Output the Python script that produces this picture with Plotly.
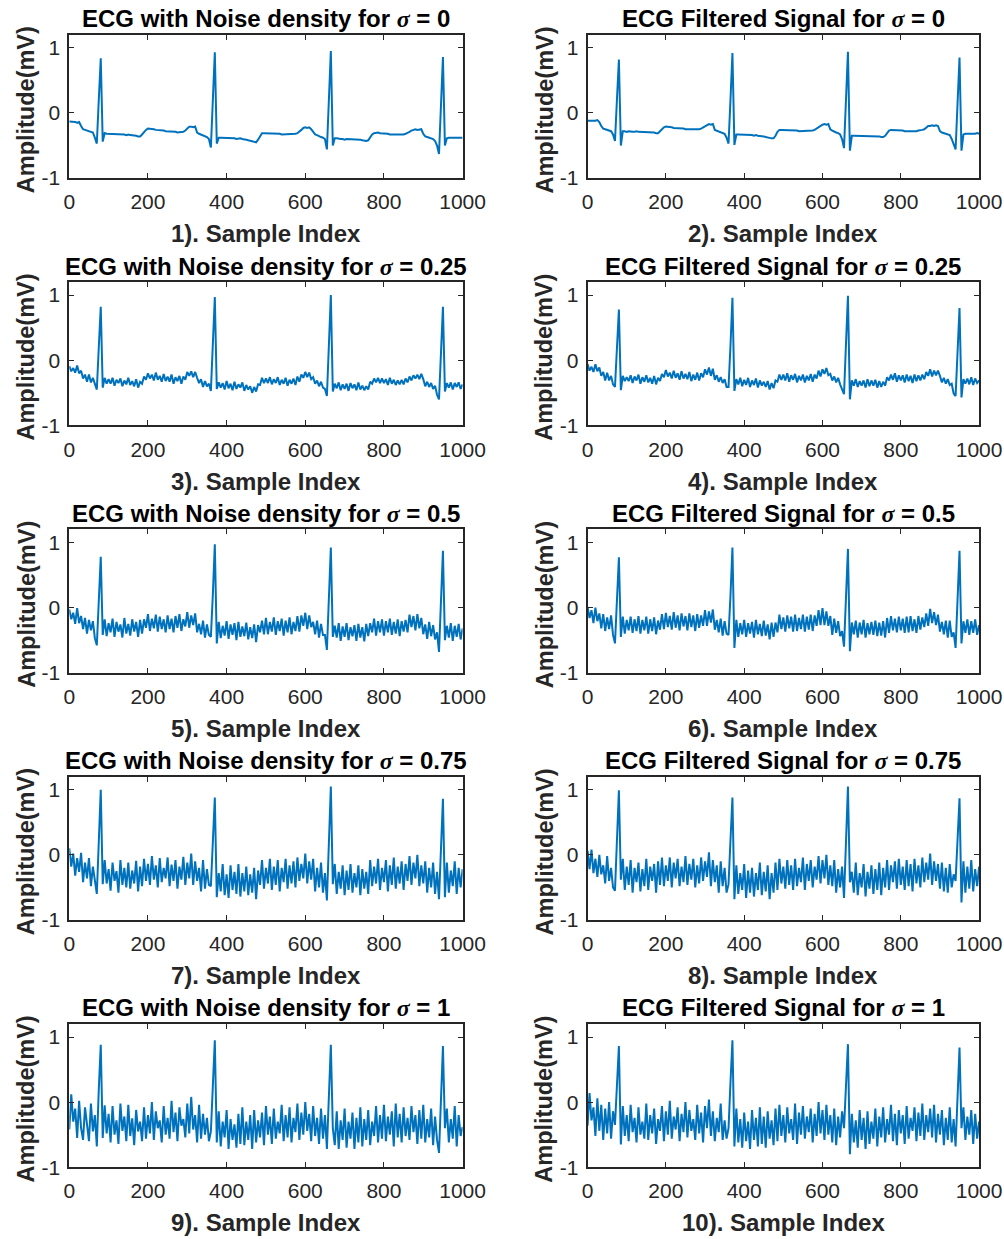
import plotly.graph_objects as go

# ---------------- data (amplitude in hundredths of mV, one value every 5 samples) ----------------
sample_step = 5
x_ticks = [0, 200, 400, 600, 800, 1000]
y_ticks = [-1, 0, 1]
y_tick_text = ["-1", "0", "1"]
sigma_labels = ["0", "0.25", "0.5", "0.75", "1"]

ecg_noisy_0 = [
    -13, -13, -14, -14, -15, -14, -20, -25, -26, -27,
    -28, -28, -30, -38, -47, 20, 84, -44, -31, -32,
    -32, -33, -32, -33, -33, -32, -33, -33, -33, -34,
    -33, -34, -34, -34, -35, -36, -36, -33, -29, -26,
    -24, -24, -25, -25, -26, -26, -27, -27, -27, -28,
    -28, -29, -29, -29, -29, -30, -30, -30, -29, -27,
    -24, -21, -21, -22, -21, -30, -32, -33, -35, -36,
    -37, -40, -53, 20, 93, -47, -38, -38, -38, -39,
    -38, -39, -39, -39, -39, -40, -39, -39, -40, -40,
    -41, -42, -43, -44, -45, -45, -41, -35, -31, -31,
    -31, -31, -32, -31, -31, -32, -32, -32, -33, -33,
    -33, -33, -33, -33, -33, -32, -31, -29, -26, -23,
    -22, -23, -22, -25, -30, -33, -34, -36, -37, -38,
    -40, -56, 20, 95, -50, -39, -39, -40, -40, -40,
    -41, -40, -40, -41, -40, -40, -40, -41, -41, -42,
    -43, -43, -42, -37, -33, -31, -30, -30, -31, -31,
    -32, -32, -32, -33, -33, -33, -34, -34, -34, -34,
    -33, -32, -31, -29, -27, -26, -25, -26, -25, -25,
    -32, -36, -37, -38, -39, -40, -43, -50, -63, 12,
    86, -50, -39, -38, -38, -39, -38, -38, -38, -38, -38,
]

ecg_filt_0 = [
    -12, -12, -13, -12, -12, -11, -14, -20, -24, -25,
    -26, -27, -28, -33, -43, 20, 82, -50, -28, -28,
    -29, -28, -29, -29, -29, -28, -29, -29, -29, -29,
    -29, -30, -29, -30, -30, -31, -31, -28, -25, -22,
    -21, -21, -22, -22, -23, -23, -23, -24, -24, -24,
    -25, -25, -25, -26, -26, -26, -26, -25, -24, -22,
    -20, -18, -17, -18, -17, -26, -27, -29, -30, -31,
    -32, -38, -47, 20, 92, -49, -33, -33, -33, -34,
    -33, -34, -34, -34, -34, -35, -34, -35, -35, -35,
    -36, -37, -38, -39, -39, -39, -35, -29, -26, -26,
    -26, -27, -26, -27, -27, -27, -27, -27, -28, -28,
    -28, -28, -28, -28, -27, -27, -26, -24, -22, -19,
    -18, -17, -18, -17, -25, -27, -29, -30, -31, -33,
    -40, -54, 20, 94, -58, -35, -35, -35, -35, -36,
    -35, -35, -36, -35, -36, -35, -35, -36, -36, -36,
    -37, -37, -35, -30, -27, -26, -26, -26, -27, -27,
    -27, -27, -28, -28, -28, -28, -29, -28, -28, -27,
    -27, -26, -25, -22, -20, -20, -19, -20, -19, -20,
    -28, -30, -31, -32, -33, -34, -40, -50, -56, 15,
    85, -58, -33, -32, -32, -33, -32, -32, -32, -31, -32,
]

ecg_noisy_025 = [
    -9, -17, -12, -19, -8, -20, -16, -28, -22, -33,
    -22, -34, -27, -35, -45, 20, 82, -42, -27, -36,
    -29, -36, -27, -39, -30, -35, -28, -40, -31, -37,
    -27, -38, -32, -40, -29, -42, -33, -36, -25, -30,
    -20, -28, -22, -31, -19, -30, -24, -33, -21, -32,
    -25, -33, -22, -36, -26, -32, -24, -36, -25, -30,
    -18, -24, -17, -26, -18, -27, -35, -29, -41, -32,
    -40, -36, -47, 25, 97, -44, -34, -42, -35, -45,
    -32, -43, -36, -46, -33, -44, -37, -42, -34, -47,
    -38, -45, -40, -50, -41, -48, -37, -38, -27, -35,
    -28, -35, -26, -37, -29, -35, -26, -38, -30, -36,
    -27, -39, -30, -36, -28, -38, -25, -33, -22, -27,
    -18, -26, -19, -29, -26, -36, -31, -40, -33, -42,
    -44, -55, 30, 100, -48, -36, -43, -34, -46, -37,
    -44, -36, -47, -35, -43, -37, -46, -34, -45, -39,
    -46, -40, -45, -33, -36, -28, -34, -27, -35, -28,
    -35, -29, -38, -27, -36, -30, -38, -31, -37, -30,
    -37, -28, -34, -25, -31, -23, -28, -22, -29, -21,
    -29, -40, -33, -41, -35, -44, -39, -53, -60, 10,
    82, -48, -35, -42, -34, -45, -35, -41, -34, -44, -37,
]

ecg_filt_025 = [
    -6, -16, -10, -18, -6, -17, -11, -24, -18, -31,
    -19, -31, -24, -37, -41, 18, 78, -46, -24, -32,
    -26, -32, -23, -35, -25, -31, -22, -36, -26, -33,
    -23, -34, -27, -36, -24, -37, -27, -32, -21, -26,
    -15, -25, -19, -28, -16, -27, -20, -30, -17, -28,
    -21, -29, -18, -32, -22, -30, -19, -31, -20, -26,
    -14, -22, -11, -24, -13, -30, -23, -33, -26, -35,
    -29, -41, -41, 22, 96, -47, -29, -37, -27, -40,
    -30, -38, -27, -41, -31, -38, -28, -42, -31, -39,
    -33, -41, -32, -45, -35, -43, -31, -33, -22, -30,
    -22, -31, -20, -33, -23, -30, -21, -34, -24, -31,
    -22, -34, -24, -31, -21, -33, -22, -28, -16, -25,
    -14, -21, -12, -23, -21, -31, -25, -34, -27, -37,
    -44, -52, 25, 99, -60, -31, -39, -29, -41, -32,
    -39, -31, -42, -29, -40, -31, -39, -30, -42, -32,
    -41, -33, -39, -26, -31, -22, -30, -20, -33, -23,
    -31, -23, -34, -22, -32, -24, -35, -22, -32, -23,
    -31, -22, -29, -18, -24, -14, -25, -16, -23, -16,
    -24, -34, -27, -36, -29, -38, -36, -51, -55, 14,
    80, -57, -29, -36, -28, -37, -26, -38, -28, -35, -31,
]

ecg_noisy_05 = [
    -3, -18, -8, -25, -1, -24, -13, -33, -16, -40,
    -19, -35, -21, -47, -58, 10, 78, -42, -18, -44,
    -24, -38, -17, -45, -22, -37, -26, -46, -16, -40,
    -25, -43, -18, -37, -22, -45, -19, -40, -18, -31,
    -10, -36, -17, -32, -11, -37, -14, -33, -18, -38,
    -12, -33, -17, -38, -13, -31, -10, -36, -18, -29,
    -7, -31, -12, -27, -9, -38, -25, -41, -20, -46,
    -26, -42, -45, 20, 97, -55, -22, -47, -28, -43,
    -21, -48, -26, -42, -24, -50, -22, -45, -29, -44,
    -23, -49, -30, -47, -26, -53, -27, -38, -20, -41,
    -16, -41, -22, -37, -15, -42, -21, -36, -17, -43,
    -20, -38, -15, -41, -22, -36, -13, -37, -12, -28,
    -8, -33, -12, -30, -22, -41, -20, -46, -25, -42,
    -42, -65, 15, 92, -45, -28, -46, -24, -51, -29,
    -45, -24, -50, -30, -44, -27, -51, -25, -46, -30,
    -52, -25, -44, -24, -38, -17, -43, -21, -38, -18,
    -43, -21, -38, -17, -42, -22, -40, -18, -44, -21,
    -37, -19, -38, -11, -30, -13, -35, -10, -32, -16,
    -41, -26, -48, -22, -44, -27, -49, -38, -68, 10,
    87, -50, -28, -46, -24, -51, -28, -45, -25, -49, -32,
]

ecg_filt_05 = [
    1, -16, -4, -24, 0, -21, -9, -32, -10, -36,
    -15, -33, -12, -42, -55, 12, 77, -45, -14, -40,
    -19, -35, -14, -39, -18, -36, -13, -40, -19, -35,
    -14, -40, -18, -36, -15, -41, -20, -34, -10, -33,
    -8, -30, -13, -34, -7, -31, -12, -35, -9, -29,
    -13, -35, -9, -30, -12, -36, -10, -31, -12, -28,
    -4, -28, -6, -23, -3, -34, -19, -38, -17, -43,
    -21, -40, -42, 18, 92, -62, -19, -45, -24, -41,
    -19, -45, -24, -40, -22, -46, -19, -41, -25, -44,
    -20, -43, -26, -49, -23, -45, -23, -38, -11, -33,
    -15, -37, -12, -32, -14, -37, -11, -36, -16, -33,
    -11, -37, -14, -34, -11, -36, -12, -28, -4, -27,
    -1, -27, -6, -28, -13, -42, -17, -39, -21, -44,
    -36, -60, 15, 90, -67, -23, -41, -20, -46, -23,
    -41, -19, -46, -24, -41, -22, -42, -20, -44, -23,
    -43, -21, -46, -16, -39, -13, -35, -17, -38, -14,
    -35, -17, -39, -14, -38, -13, -36, -18, -39, -13,
    -34, -15, -30, -9, -28, -2, -24, -7, -27, -11,
    -37, -22, -41, -20, -46, -20, -45, -38, -62, 10,
    87, -55, -21, -39, -18, -42, -21, -39, -18, -42, -27,
]

ecg_noisy_075 = [
    10, -18, 2, -32, -5, -26, 3, -42, -12, -36,
    -5, -48, -18, -40, -60, 20, 100, -45, -8, -44,
    -22, -55, -12, -40, -25, -58, -8, -46, -20, -50,
    -12, -52, -24, -44, -9, -56, -18, -48, -6, -40,
    -14, -46, -2, -38, -16, -50, -5, -42, -20, -36,
    -4, -48, -15, -40, -8, -52, -18, -38, -3, -46,
    -12, -36, 2, -46, -10, -40, -20, -56, -8, -52,
    -22, -46, -48, 20, 88, -65, -28, -56, -14, -62,
    -30, -66, -16, -54, -26, -60, -14, -64, -28, -56,
    -18, -62, -30, -58, -20, -68, -24, -46, -8, -52,
    -20, -44, -6, -54, -18, -46, -8, -56, -20, -42,
    -6, -52, -16, -44, -10, -50, -4, -40, -14, -36,
    2, -44, -10, -38, -6, -56, -20, -50, -12, -58,
    -28, -70, 20, 105, -45, -14, -60, -26, -52, -16,
    -62, -24, -54, -14, -58, -28, -50, -16, -62, -22,
    -52, -26, -60, -8, -48, -18, -44, -6, -54, -20,
    -42, -8, -56, -16, -46, -4, -52, -18, -44, -10,
    -54, -14, -40, -2, -46, -12, -36, 0, -48, -16,
    -44, -10, -58, -20, -50, -12, -60, -26, -68, 10,
    86, -65, -12, -58, -24, -48, -10, -60, -20, -50, -22,
]

ecg_filt_075 = [
    6, -22, 8, -28, -6, -34, 0, -30, -16, -44,
    -2, -40, -20, -50, -55, 22, 99, -38, -6, -54,
    -18, -46, -8, -58, -20, -42, -12, -56, -22, -48,
    -6, -54, -18, -40, -14, -58, -10, -46, -4, -48,
    -16, -40, -4, -50, -12, -36, -6, -48, -18, -42,
    -2, -46, -14, -38, -6, -50, -16, -44, -4, -40,
    -10, -34, 4, -48, -8, -42, -16, -58, -10, -48,
    -20, -58, -45, 22, 88, -68, -16, -60, -28, -54,
    -14, -66, -24, -58, -20, -64, -28, -54, -12, -62,
    -26, -56, -16, -68, -28, -58, -12, -54, -6, -44,
    -18, -52, -8, -46, -16, -54, -6, -48, -20, -42,
    -4, -54, -14, -40, -8, -50, -18, -38, -2, -44,
    -8, -36, 0, -46, -16, -48, -8, -58, -22, -50,
    -18, -66, 20, 105, -42, -26, -58, -12, -62, -28,
    -50, -14, -64, -26, -52, -16, -60, -22, -54, -12,
    -62, -20, -50, -8, -54, -16, -42, -10, -52, -6,
    -46, -18, -54, -8, -48, -14, -56, -6, -44, -16,
    -50, -4, -42, -12, -38, 2, -46, -10, -40, -14,
    -52, -12, -56, -20, -58, -14, -50, -30, -40, 15,
    87, -73, -10, -58, -18, -52, -8, -56, -22, -48, -18,
]

ecg_noisy_1 = [
    -42, 12, -30, -10, -55, 2, -40, -58, -8, -35,
    -60, -2, -45, -20, -68, 20, 88, -55, -5, -48,
    -18, -62, -6, -50, -28, -64, -2, -44, -22, -60,
    -4, -52, -25, -66, -12, -45, -30, -60, -8, -56,
    -20, -48, 0, -58, -14, -40, -28, -62, -6, -50,
    -24, -56, 2, -46, -16, -60, -8, -36, -26, -54,
    -2, -48, 8, -42, -20, -62, -4, -56, -18, -50,
    -24, -60, -45, 25, 95, -62, -14, -68, -30, -54,
    -12, -72, -26, -58, -34, -70, -18, -64, -8, -66,
    -30, -58, -20, -72, -12, -62, -28, -54, -16, -66,
    -6, -50, -22, -64, -10, -56, -30, -48, -4, -60,
    -20, -54, -8, -62, -24, -46, -2, -58, -16, -50,
    0, -44, -18, -60, -6, -52, -24, -64, -10, -56,
    -20, -72, 15, 88, -40, -66, -14, -72, -28, -58,
    -10, -70, -30, -56, -16, -72, -24, -62, -8, -68,
    -26, -58, -12, -66, -30, -52, -6, -62, -20, -56,
    -4, -60, -22, -50, -14, -68, -2, -54, -18, -62,
    -8, -52, -24, -58, -6, -46, -20, -64, -12, -56,
    -4, -62, -26, -54, -10, -66, -22, -58, -78, 20,
    86, -40, -10, -62, -26, -56, -6, -68, -20, -52, -38,
]

ecg_filt_1 = [
    -36, 14, -28, -8, -52, 6, -44, -4, -58, -10,
    -48, 0, -56, -14, -35, 18, 86, -65, -6, -52,
    -20, -60, -4, -46, -24, -62, -8, -50, -30, -56,
    -2, -58, -20, -48, -10, -64, -26, -44, -6, -60,
    -14, -50, 2, -56, -22, -42, -8, -60, -18, -46,
    0, -54, -12, -44, -26, -58, -4, -48, -16, -62,
    -6, -40, 4, -52, -14, -60, -24, -46, -2, -58,
    -28, -56, -40, 30, 95, -68, -10, -62, -26, -70,
    -16, -60, -30, -72, -12, -58, -24, -68, -8, -64,
    -22, -70, -14, -56, -28, -66, -10, -60, -4, -52,
    -20, -62, -8, -48, -26, -58, -2, -64, -16, -50,
    -6, -56, -22, -46, -10, -62, -18, -52, 0, -48,
    -12, -58, -4, -50, -20, -62, -10, -66, -22, -54,
    -14, -40, 20, 89, -80, -18, -62, -28, -70, -12,
    -58, -24, -72, -14, -64, -30, -56, -10, -68, -22,
    -54, -8, -62, -26, -50, -4, -60, -18, -66, -12,
    -48, -20, -64, -6, -56, -24, -44, -8, -60, -16,
    -52, -2, -58, -20, -46, -10, -54, -4, -62, -18,
    -50, -12, -66, -24, -58, -8, -62, -26, -68, 15,
    84, -40, -8, -58, -22, -50, -12, -64, -18, -56, -30,
]

left_series = [ecg_noisy_0, ecg_noisy_025, ecg_noisy_05, ecg_noisy_075, ecg_noisy_1]
right_series = [ecg_filt_0, ecg_filt_025, ecg_filt_05, ecg_filt_075, ecg_filt_1]

# ---------------- layout geometry ----------------
# target positions are given in picture pixels; the photographed page maps a
# figure pixel (fx, fy) to picture pixel (OX + SX*fx, OY + SY*fy)
W, H = 1028, 1250
OX, OY = 5.0, 3.0
SX, SY = 0.972, 0.989

col_left = [(68.3, 461.7), (586.7, 978.3)]
zero0, row_step, unit = 115.7, 246.75, 65.0
Y_MIN, Y_MAX = -1.0, 1.2


def px(xp):
    return (xp - OX) / SX / W


def py(yp):
    return 1 - (yp - OY) / SY / H


FONT = "Liberation Sans, Arial, Helvetica, sans-serif"
LINE_COLOR = "#0072BD"
AX_COLOR = "#262626"

fig = go.Figure()
annotations = []
layout_axes = {}

for r in range(5):
    zero_y = zero0 + row_step * r
    top = zero_y - Y_MAX * unit
    bottom = zero_y - Y_MIN * unit
    ydom = [py(bottom), py(top)]
    for c in range(2):
        n = 2 * r + c + 1
        xl, xr = col_left[c]
        xdom = [px(xl), px(xr)]
        series = left_series[r] if c == 0 else right_series[r]
        xs = [i * sample_step for i in range(len(series))]
        ys = [v / 100 for v in series]
        fig.add_trace(go.Scatter(
            x=xs, y=ys, mode="lines",
            line=dict(color=LINE_COLOR, width=2.0),
            xaxis=f"x{n}", yaxis=f"y{n}", showlegend=False, hoverinfo="skip",
        ))
        common = dict(
            showline=True, linecolor=AX_COLOR, linewidth=1.9, mirror="ticks",
            ticks="inside", ticklen=5, tickwidth=1.2, tickcolor=AX_COLOR,
            showgrid=False, zeroline=False, fixedrange=True,
            tickfont=dict(family=FONT, size=21, color=AX_COLOR),
        )
        layout_axes[f"xaxis{n}"] = dict(
            domain=xdom, anchor=f"y{n}", range=[0, 1000],
            tickvals=x_ticks, ticktext=[str(t) for t in x_ticks],
            ticklabelstandoff=4, **common,
        )
        layout_axes[f"yaxis{n}"] = dict(
            domain=ydom, anchor=f"x{n}", range=[Y_MIN, Y_MAX],
            tickvals=y_ticks, ticktext=y_tick_text,
            ticklabelstandoff=3, **common,
        )
        sig = sigma_labels[r]
        sigma_html = "<span style='font-family:Liberation Serif, Times New Roman, serif'><i>σ</i></span>"
        if c == 0:
            title = f"<b>ECG with Noise density for {sigma_html} = {sig}</b>"
        else:
            title = f"<b>ECG Filtered Signal for {sigma_html} = {sig}</b>"
        cx = px((xl + xr) / 2)
        annotations.append(dict(
            text=title, x=cx, y=py(top - 0.5), xref="paper", yref="paper",
            xanchor="center", yanchor="bottom", showarrow=False,
            font=dict(family=FONT, size=24, color="#000000"),
        ))
        annotations.append(dict(
            text=f"<b>{n}). Sample Index</b>", x=cx, y=py(zero_y + 120.5),
            xref="paper", yref="paper", xanchor="center", yanchor="middle",
            showarrow=False, font=dict(family=FONT, size=24, color=AX_COLOR),
        ))
        annotations.append(dict(
            text="<b>Amplitude(mV)</b>", x=px(xl - 43), y=py(zero_y - 3),
            xref="paper", yref="paper", xanchor="center", yanchor="middle",
            textangle=-90, showarrow=False,
            font=dict(family=FONT, size=23.5, color=AX_COLOR),
        ))

fig.update_layout(
    width=W, height=H, margin=dict(l=0, r=0, t=0, b=0),
    paper_bgcolor="white", plot_bgcolor="white",
    annotations=annotations, **layout_axes,
)

page_fix = (
    "document.documentElement.style.overflow='hidden';"
    "document.body.style.overflow='hidden';"
)

fig.write_html("out.html", config={"displayModeBar": False}, post_script=page_fix)
